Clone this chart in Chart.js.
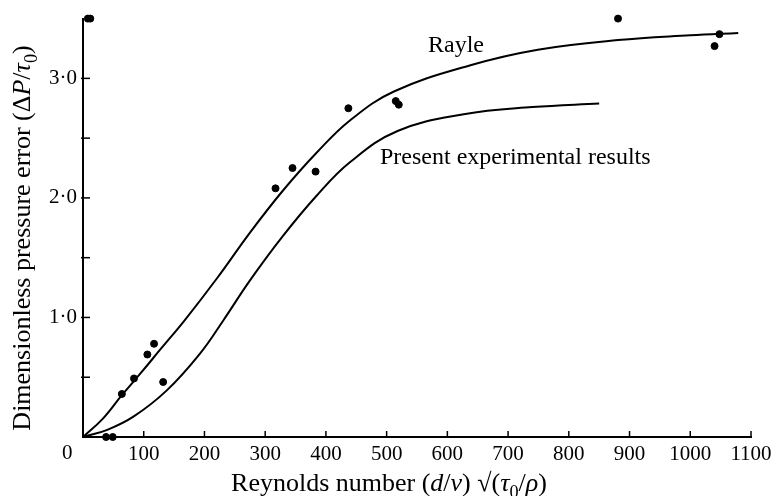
<!DOCTYPE html>
<html>
<head>
<meta charset="utf-8">
<script src="https://cdn.jsdelivr.net/npm/chart.js@4.4.1/dist/chart.umd.min.js"></script>
<style>
  html, body { margin: 0; padding: 0; background: #fff; }
  #wrap { width: 778px; height: 496px; }
</style>
</head>
<body>
<div id="wrap"><canvas id="chart"></canvas></div>
<script>
// measured points (Reynolds number, dimensionless pressure error)
var pointX = [8, 12, 38, 49, 64, 84, 106, 117, 132, 317, 345, 383, 437, 515, 520, 881, 1040, 1048];
var pointY = [3.5, 3.5, 0, 0, 0.36, 0.49, 0.69, 0.78, 0.46, 2.08, 2.25, 2.22, 2.75, 2.81, 2.78, 3.5, 3.27, 3.37];

// Rayle curve
var rayleX = [0, 32, 64, 96, 127, 168, 221, 275, 329, 385, 440, 512, 638, 749, 881, 1000, 1079];
var rayleY = [0, 0.15, 0.35, 0.54, 0.73, 0.98, 1.33, 1.71, 2.06, 2.38, 2.65, 2.89, 3.11, 3.24, 3.32, 3.36, 3.38];

// present experimental results curve
var presentX = [0, 40, 83, 138, 193, 231, 275, 329, 385, 440, 518, 627, 740, 850];
var presentY = [0, 0.06, 0.17, 0.39, 0.7, 0.975, 1.31, 1.68, 2.02, 2.3, 2.56, 2.7, 2.76, 2.79];

var xTicks = [100, 200, 300, 400, 500, 600, 700, 800, 900, 1000, 1100];
var yTicks = [0.5, 1, 1.5, 2, 2.5, 3];

var serif = '"Liberation Serif", "DejaVu Serif", serif';

function toXY(xs, ys) {
  return xs.map(function (x, i) { return { x: x, y: ys[i] }; });
}

// draws text made of plain / italic / subscript pieces
function drawRich(ctx, parts, x, y, size) {
  var total = 0;
  parts.forEach(function (p) {
    ctx.font = (p.it ? 'italic ' : '') + (p.sub ? size * 0.7 : size) + 'px ' + serif;
    p.w = ctx.measureText(p.t).width;
    total += p.w;
  });
  var cx = x - total / 2;
  parts.forEach(function (p) {
    ctx.font = (p.it ? 'italic ' : '') + (p.sub ? size * 0.7 : size) + 'px ' + serif;
    ctx.fillText(p.t, cx, p.sub ? y + size * 0.25 : y);
    cx += p.w;
  });
}

var decorations = {
  id: 'decorations',
  afterDraw: function (chart) {
    var ctx = chart.ctx;
    var xs = chart.scales.x, ys = chart.scales.y;
    var area = chart.chartArea;
    ctx.save();
    ctx.strokeStyle = '#000';
    ctx.fillStyle = '#000';
    ctx.lineWidth = 1.5;

    // inward ticks
    xTicks.forEach(function (v) {
      var px = xs.getPixelForValue(v);
      ctx.beginPath();
      ctx.moveTo(px, area.bottom);
      ctx.lineTo(px, area.bottom - 6);
      ctx.stroke();
    });
    yTicks.forEach(function (v) {
      var py = ys.getPixelForValue(v);
      ctx.beginPath();
      ctx.moveTo(area.left - 2, py);
      ctx.lineTo(area.left + 7, py);
      ctx.stroke();
    });

    ctx.textBaseline = 'alphabetic';
    ctx.textAlign = 'left';

    // origin label sits left of the axis
    ctx.font = '21px ' + serif;
    ctx.fillText('0', area.left - 21, 459);

    // curve labels
    ctx.font = '24px ' + serif;
    ctx.fillText('Rayle', 428, 52);
    ctx.fillText('Present experimental results', 380, 164);

    // x title
    drawRich(ctx, [
      { t: 'Reynolds number (' },
      { t: 'd', it: true },
      { t: '/' },
      { t: 'ν', it: true },
      { t: ') √(' },
      { t: 'τ', it: true },
      { t: '0', sub: true },
      { t: '/' },
      { t: 'ρ', it: true },
      { t: ')' }
    ], 389, 491, 26);

    // y title
    ctx.translate(30, 238);
    ctx.rotate(-Math.PI / 2);
    drawRich(ctx, [
      { t: 'Dimensionless pressure error (Δ' },
      { t: 'P', it: true },
      { t: '/' },
      { t: 'τ', it: true },
      { t: '0', sub: true },
      { t: ')' }
    ], 0, 0, 26);
    ctx.restore();
  }
};

new Chart(document.getElementById('chart'), {
  type: 'scatter',
  data: {
    datasets: [
      {
        label: 'Rayle',
        data: toXY(rayleX, rayleY),
        showLine: true,
        borderColor: '#000',
        borderWidth: 2,
        pointRadius: 0,
        tension: 0.4
      },
      {
        label: 'Present experimental results',
        data: toXY(presentX, presentY),
        showLine: true,
        borderColor: '#000',
        borderWidth: 2,
        pointRadius: 0,
        tension: 0.4
      },
      {
        label: 'Measurements',
        data: toXY(pointX, pointY),
        showLine: false,
        pointRadius: 3.5,
        pointBackgroundColor: '#000',
        pointBorderColor: '#000',
        clip: false
      }
    ]
  },
  options: {
    responsive: true,
    maintainAspectRatio: false,
    animation: false,
    layout: { padding: { top: 15, right: 27, left: 0, bottom: 0 } },
    plugins: {
      legend: { display: false },
      tooltip: { enabled: false }
    },
    scales: {
      x: {
        type: 'linear',
        min: 0,
        max: 1100,
        border: { color: '#000', width: 2 },
        grid: { display: false, drawTicks: false },
        ticks: {
          stepSize: 100,
          padding: 5,
          color: '#000',
          font: { family: serif, size: 21 },
          maxRotation: 0,
          callback: function (v) { return v === 0 ? '' : v; }
        },
        afterFit: function (scale) { scale.height = 59; }
      },
      y: {
        type: 'linear',
        min: 0,
        max: 3.5,
        border: { color: '#000', width: 2 },
        grid: { display: false, drawTicks: false },
        ticks: {
          stepSize: 0.5,
          padding: 6,
          color: '#000',
          font: { family: serif, size: 21 },
          callback: function (v) {
            return (Number.isInteger(v) && v > 0 && v < 3.5) ? v.toFixed(1).replace('.', '·') : '';
          }
        },
        afterFit: function (scale) { scale.width = 83; }
      }
    }
  },
  plugins: [decorations]
});
</script>
</body>
</html>
